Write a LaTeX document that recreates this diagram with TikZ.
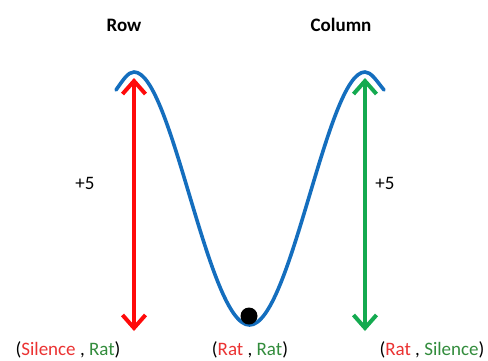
\documentclass[tikz,border=0pt]{standalone}
\usepackage{fontspec}
\setmainfont{Carlito}
\usetikzlibrary{arrows.meta}
\definecolor{cblue}{RGB}{20,110,190}
\definecolor{cred}{RGB}{255,10,10}
\definecolor{cgreen}{RGB}{20,170,80}
\definecolor{tred}{RGB}{235,50,50}
\definecolor{tgreen}{RGB}{50,140,60}
\tikzset{
  dbl/.style={line width=4pt,{Straight Barb[length=13pt,width=23pt,line width=4pt]}-{Straight Barb[length=13pt,width=23pt,line width=4pt]}},
  lbl/.style={font=\fontsize{19}{21}\selectfont,inner sep=0pt},
  ttl/.style={font=\fontsize{19}{21}\selectfont\bfseries,inner sep=0pt}
}
\begin{document}
\begin{tikzpicture}[x=1pt,y=-1pt]
\useasboundingbox (0,0) rectangle (488,360);
\fill[white] (0,0) rectangle (488,360);
% curve
\draw[cblue,line width=3.6pt,line cap=round]
  (116,90) .. controls (123,80) and (128,72) .. (134,72)
  .. controls (172,72) and (208,325) .. (249.5,325)
  .. controls (291,325) and (327,72) .. (365,72)
  .. controls (371,72) and (376,80) .. (384,90);
% arrows
\coordinate (rt) at (134,78);
\coordinate (rb) at (134,331);
\coordinate (gt) at (365,78);
\coordinate (gb) at (365,331);
\draw[dbl,cred] (rt) -- (rb);
\draw[dbl,cgreen] (gt) -- (gb);
% ball
\node[circle,fill=black,minimum size=17pt,inner sep=0pt] (ball) at (249,316) {};
% texts
\node[ttl] (row) at (124,25) {Row};
\node[ttl] (col) at (341,25) {Column};
\node[lbl] (p1) at (85,183) {+5};
\node[lbl] (p2) at (385,183) {+5};
\node[lbl] (b1) at (68,350) {(\textcolor{tred}{Silence} , \textcolor{tgreen}{Rat})};
\node[lbl] (b2) at (250,350) {(\textcolor{tred}{Rat} , \textcolor{tgreen}{Rat})};
\node[lbl] (b3) at (432,350) {(\textcolor{tred}{Rat} , \textcolor{tgreen}{Silence})};
\end{tikzpicture}
\end{document}
